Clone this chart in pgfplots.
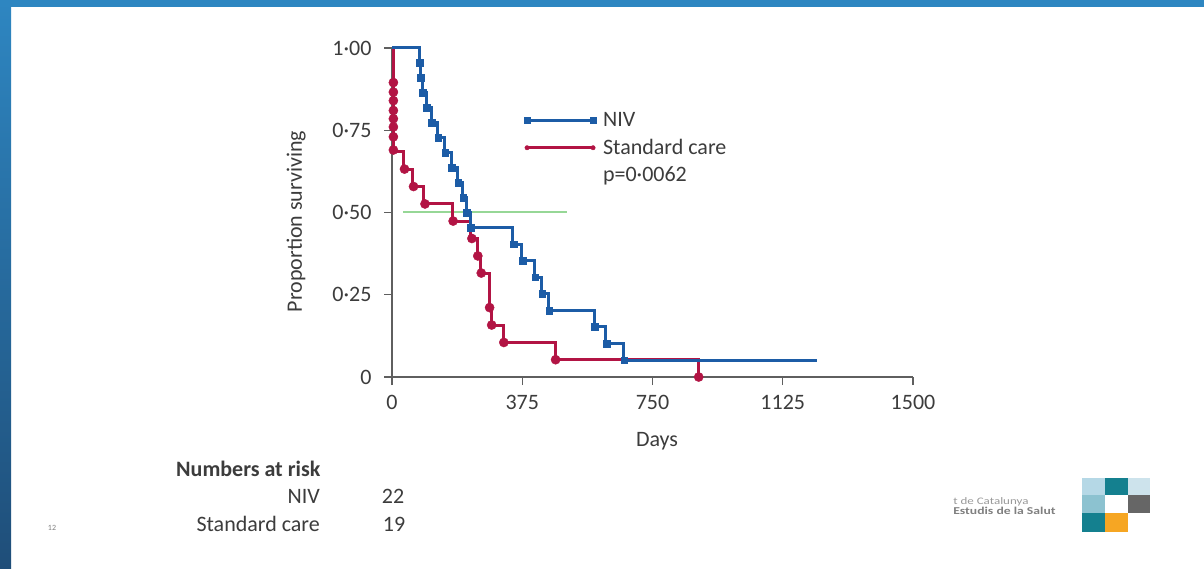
\documentclass[border=0pt]{standalone}
\usepackage{pgfplots}
\pgfplotsset{compat=1.18}
\usepackage{fontspec}
\setmainfont{Carlito}
\definecolor{nivblue}{RGB}{28,92,166}
\definecolor{scred}{RGB}{178,20,68}
\definecolor{halfgreen}{RGB}{150,215,150}
\definecolor{txt}{RGB}{60,60,60}
\definecolor{axgray}{RGB}{95,95,95}
\definecolor{frametop}{RGB}{46,134,193}
\definecolor{framebot}{RGB}{31,78,121}
\definecolor{lgA}{RGB}{181,216,230}
\definecolor{lgB}{RGB}{20,128,143}
\definecolor{lgC}{RGB}{205,227,236}
\definecolor{lgD}{RGB}{140,194,208}
\definecolor{lgE}{RGB}{102,102,102}
\definecolor{lgF}{RGB}{246,166,35}
\begin{document}
\begin{tikzpicture}[x=1pt,y=1pt]
\fill[white] (0,0) rectangle (1204,568);
\shade[top color=frametop, bottom color=framebot] (0,0) rectangle (11,568);
\fill[frametop] (0,561) rectangle (1204,568);
\begin{axis}[
  at={(392pt,191pt)}, anchor=south west, scale only axis,
  width=521pt, height=329pt,
  xmin=0, xmax=1500, ymin=0, ymax=1,
  axis x line*=bottom, axis y line*=left,
  axis line style={-, axgray, line width=1.3pt},
  tick align=outside, major tick length=8pt,
  tick style={axgray, line width=1.3pt},
  xtick={0,375,750,1125,1500},
  xticklabels={\mbox{0},\mbox{375},\mbox{750},\mbox{1125},\mbox{1500}},
  ytick={0,0.25,0.5,0.75,1},
  yticklabels={\mbox{0},\mbox{0·25},\mbox{0·50},\mbox{0·75},\mbox{1·00}},
  ticklabel style={font=\fontsize{22}{26}\selectfont, text=txt},
  xticklabel style={yshift=-7pt},
  yticklabel style={xshift=-9pt},
  xlabel={Days}, ylabel={Proportion surviving},
  label style={font=\fontsize{22}{26}\selectfont, text=txt},
  xlabel style={at={(axis cs:763,0)}, anchor=base, yshift=-69pt},
  ylabel style={at={(axis cs:-276,0.473)}, anchor=center},
  clip=false,
  legend image code/.code={\draw[#1, mark repeat=1, mark phase=1] plot coordinates {(0pt,0pt) (66pt,0pt)};},
  legend style={at={(axis cs:371,0.816)}, anchor=north west, draw=none, fill=none,
    font=\fontsize{22}{26}\selectfont, text=txt, row sep=7pt,
    /tikz/every odd column/.append style={column sep=5pt}},
  legend cell align=left,
]
\addlegendimage{nivblue, line width=3pt, mark=square*, mark size=3pt, mark options={line width=0.4pt}}
\addlegendentry{NIV}
\addlegendimage{scred, line width=3pt, mark=*, mark size=2.2pt, mark options={line width=0.4pt}}
\addlegendentry{Standard care}
\addlegendimage{empty legend}
\addlegendentry{p=0·0062}

\addplot[halfgreen, line width=2pt, forget plot] coordinates {(32,0.5) (504,0.5)};

\addplot[scred, line width=3pt, const plot, forget plot] coordinates {
(0,1) (4,0.684) (34,0.632) (60,0.579) (92,0.526) (174,0.474) (226,0.421)
(245,0.368) (256,0.316) (280,0.211) (286,0.158) (320,0.105) (470,0.0526) (882,0)};

\addplot[nivblue, line width=3pt, const plot, forget plot] coordinates {
(0,1) (78,0.955) (82,0.909) (88,0.864) (99,0.818) (113,0.773) (132,0.727)
(152,0.682) (171,0.636) (190,0.591) (204,0.545) (214,0.5) (226,0.4545)
(348,0.404) (374,0.354) (410,0.303) (430,0.253) (450,0.202) (582,0.152)
(616,0.101) (666,0.0505) (1225,0.0505)};

\addplot[only marks, mark=*, mark size=4.6pt, scred, forget plot] coordinates {
(4,0.895) (4,0.866) (4,0.84) (4,0.81) (4,0.785) (4,0.76) (4,0.73) (4,0.69)
(36,0.632) (62,0.579) (95,0.526) (176,0.474) (230,0.421) (247,0.368)
(257,0.316) (281,0.211) (287,0.158) (322,0.105) (471,0.0526) (883,0)};

\addplot[only marks, mark=square*, mark size=3.3pt, nivblue, forget plot] coordinates {
(80,0.955) (83,0.909) (89,0.864) (100,0.818) (114,0.773) (133,0.727)
(153,0.682) (172,0.636) (191,0.591) (205,0.545) (215,0.5) (227,0.4545)
(350,0.404) (376,0.354) (412,0.303) (432,0.253) (452,0.202) (584,0.152)
(618,0.101) (668,0.0505)};
\end{axis}
% numbers at risk
\begin{scope}[every node/.style={font=\fontsize{22}{26}\selectfont, text=txt, inner sep=0pt}]
\node[anchor=base west, font=\fontsize{22}{26}\selectfont\bfseries] at (176,92) {Numbers at risk};
\node[anchor=base east] at (320,65) {NIV};
\node[anchor=base] at (393,65) {22};
\node[anchor=base east] at (320,37) {Standard care};
\node[anchor=base] at (394,37) {19};
\end{scope}
\node[font=\fontsize{8}{9}\selectfont, text=gray, inner sep=0pt] at (52,40) {12};
% logo
\node[anchor=base west, xscale=1.3, font=\fontsize{10}{11}\selectfont, text=gray!80, inner sep=0pt] at (953,64) {t de Catalunya};
\node[anchor=base west, xscale=1.3, font=\fontsize{10.5}{11}\selectfont\bfseries, text=gray, inner sep=0pt] at (953,53.5) {Estudis de la Salut};
\fill[lgA] (1082,73) rectangle (1105,90);
\fill[lgB] (1105,73) rectangle (1128,90);
\fill[lgC] (1128,73) rectangle (1150,90);
\fill[lgD] (1082,55) rectangle (1105,73);
\fill[lgE] (1128,55) rectangle (1150,73);
\fill[lgB] (1082,36) rectangle (1105,55);
\fill[lgF] (1105,36) rectangle (1128,55);
\end{tikzpicture}
\end{document}
